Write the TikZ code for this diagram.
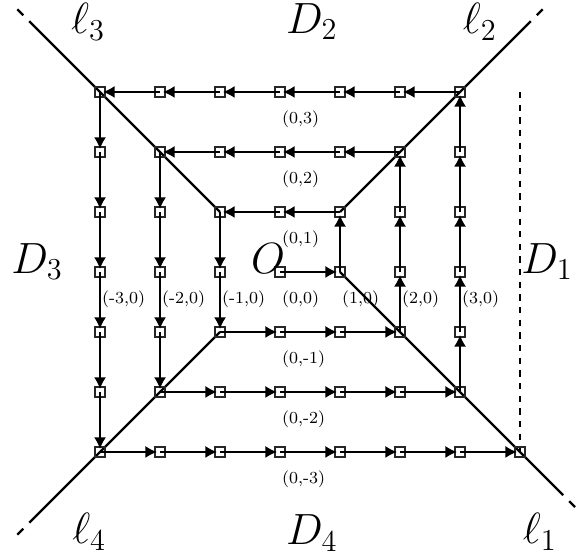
\documentclass[tikz,border=0pt]{standalone}
\usetikzlibrary{arrows.meta,calc}
\tikzset{
  sq/.style={draw=black!85, line width=0.7pt, minimum size=0.17cm, inner sep=0pt, outer sep=0pt},
  conn/.style={line width=0.55pt, -{Latex[length=5.4pt,width=5.6pt]}, shorten >=1.5pt},
  axisline/.style={line width=1.1pt},
  axisdash/.style={line width=1.1pt, dash pattern=on 4pt off 4pt},
  vdash/.style={line width=0.5pt, dash pattern=on 3pt off 3pt},
  biglab/.style={font=\huge, inner sep=0pt},
  smalllab/.style={font=\footnotesize, anchor=north west, inner sep=0pt}
}
\begin{document}
\begin{tikzpicture}[x=1cm,y=1cm]
\useasboundingbox (-4.667,-4.7) rectangle (5.033,4.533);
% named coordinates for the lines
\coordinate (l1a) at (1,0);
\coordinate (l1b) at (4.62,-3.62);
\coordinate (l1c) at (4.95,-3.95);
\coordinate (l2a) at (1,1);
\coordinate (l2b) at (4.08,4.08);
\coordinate (l2c) at (4.45,4.45);
\coordinate (l3a) at (-1,1);
\coordinate (l3b) at (-4.08,4.08);
\coordinate (l3c) at (-4.45,4.45);
\coordinate (l4a) at (-1,-1);
\coordinate (l4b) at (-4.08,-4.08);
\coordinate (l4c) at (-4.45,-4.45);
\coordinate (vtop) at (4,3);
\coordinate (vbot) at (4,-3);
% lines
\draw[axisline] (l1a) -- (l1b);
\draw[axisdash] (l1b) -- (l1c);
\draw[axisline] (l2a) -- (l2b);
\draw[axisdash] (l2b) -- (l2c);
\draw[axisline] (l3a) -- (l3b);
\draw[axisdash] (l3b) -- (l3c);
\draw[axisline] (l4a) -- (l4b);
\draw[axisdash] (l4b) -- (l4c);
\draw[vdash] (vtop) -- (vbot);
% square nodes
\foreach \i in {-3,...,3}{
  \foreach \j in {-3,...,3}{
    \node[sq] (p\i_\j) at (\i,\j) {};
  }
}
\node[sq] (p4_-3) at (4,-3) {};
% spiral connectors
\foreach \a/\b/\c/\d in {
  0/0/1/0, 1/0/1/1, 1/1/0/1, 0/1/-1/1, -1/1/-1/0, -1/0/-1/-1,
  -1/-1/0/-1, 0/-1/1/-1, 1/-1/2/-1, 2/-1/2/0, 2/0/2/1, 2/1/2/2,
  2/2/1/2, 1/2/0/2, 0/2/-1/2, -1/2/-2/2, -2/2/-2/1, -2/1/-2/0, -2/0/-2/-1, -2/-1/-2/-2,
  -2/-2/-1/-2, -1/-2/0/-2, 0/-2/1/-2, 1/-2/2/-2, 2/-2/3/-2,
  3/-2/3/-1, 3/-1/3/0, 3/0/3/1, 3/1/3/2, 3/2/3/3,
  3/3/2/3, 2/3/1/3, 1/3/0/3, 0/3/-1/3, -1/3/-2/3, -2/3/-3/3,
  -3/3/-3/2, -3/2/-3/1, -3/1/-3/0, -3/0/-3/-1, -3/-1/-3/-2, -3/-2/-3/-3,
  -3/-3/-2/-3, -2/-3/-1/-3, -1/-3/0/-3, 0/-3/1/-3, 1/-3/2/-3, 2/-3/3/-3, 3/-3/4/-3}{
  \draw[conn] (p\a_\b.center) -- (p\c_\d.center);
}
% small labels
\foreach \i/\j in {0/3,0/2,0/1,0/0,-3/0,-2/0,-1/0,1/0,2/0,3/0,0/-1,0/-2,0/-3}{
  \node[smalllab] (lab\i_\j) at ($(\i,\j)+(0.03,-0.31)$) {(\i,\j)};
}
% big labels
\node[biglab] (L3) at (-3.2,4.17) {$\ell_3$};
\node[biglab] (D2) at (0.53,4.17) {$D_2$};
\node[biglab] (L2) at (3.33,4.17) {$\ell_2$};
\node[biglab] (D3) at (-4.05,0.17) {$D_3$};
\node[biglab] (D1) at (4.45,0.17) {$D_1$};
\node[biglab] (O) at (-0.2,0.23) {$O$};
\node[biglab] (L4) at (-3.18,-4.33) {$\ell_4$};
\node[biglab] (D4) at (0.53,-4.35) {$D_4$};
\node[biglab] (L1) at (4.33,-4.33) {$\ell_1$};
\end{tikzpicture}
\end{document}
